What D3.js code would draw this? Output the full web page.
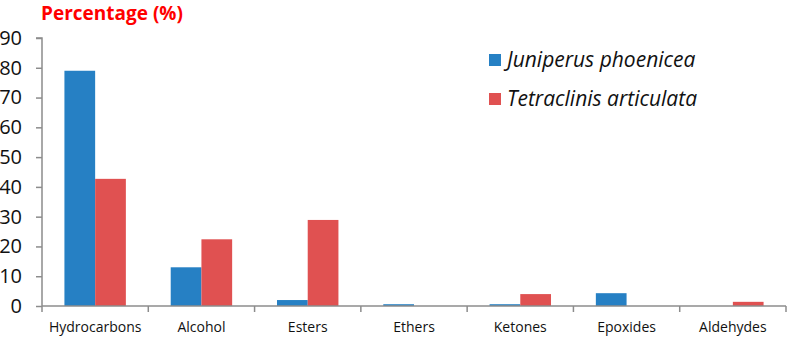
<!DOCTYPE html>
<html>
<head>
<meta charset="utf-8">
<script src="https://cdn.jsdelivr.net/npm/d3@7"></script>
<style>
  body { margin: 0; background: #fff; }
  text { font-family: "Open Sans", "Liberation Sans", sans-serif; }
</style>
</head>
<body>
<svg width="789" height="338"></svg>
<script>
// data
const categories = ["Hydrocarbons", "Alcohol", "Esters", "Ethers", "Ketones", "Epoxides", "Aldehydes"];
const juniperus = [79, 13, 2, 0.6, 0.6, 4.3, 0];
const tetraclinis = [42.7, 22.4, 28.9, 0, 4, 0, 1.4];
const seriesNames = ["Juniperus phoenicea", "Tetraclinis articulata"];
const yTicks = [0, 10, 20, 30, 40, 50, 60, 70, 80, 90];

const colors = ["#2680C4", "#E05151"];
const axisColor = "#8c8c8c";

const svg = d3.select("svg");
const margin = {left: 42, right: 3, top: 38, bottom: 32};
const width = 789, height = 338;

const x = d3.scaleBand()
    .domain(categories)
    .range([margin.left, width - margin.right]);

const inner = d3.scaleBand()
    .domain([0, 1])
    .range([0, x.bandwidth()])
    .paddingInner(0)
    .paddingOuter(0.73);

const y = d3.scaleLinear()
    .domain([0, 90])
    .range([height - margin.bottom, margin.top]);

// bars
const seriesData = [juniperus, tetraclinis];
seriesData.forEach((vals, si) => {
  svg.append("g")
    .selectAll("rect")
    .data(categories)
    .join("rect")
      .attr("x", c => x(c) + inner(si))
      .attr("width", inner.bandwidth())
      .attr("y", (c, i) => y(vals[i]))
      .attr("height", (c, i) => y(0) - y(vals[i]))
      .attr("fill", colors[si]);
});

// y axis
const yAxis = svg.append("g")
    .attr("transform", `translate(${margin.left},0)`)
    .call(d3.axisLeft(y).tickValues(yTicks).tickSize(6).tickPadding(14));
yAxis.select(".domain").attr("stroke", axisColor).attr("stroke-width", 1.5)
    .attr("d", `M-6,${y(90)}H0V${y(0)}`);
yAxis.selectAll(".tick line").attr("stroke", axisColor).attr("stroke-width", 1.5);
yAxis.selectAll(".tick text").attr("font-size", 20).attr("fill", "#111");

// x axis
const xAxis = svg.append("g")
    .attr("transform", `translate(0,${y(0)})`);
xAxis.append("line")
    .attr("x1", margin.left).attr("x2", width - margin.right)
    .attr("stroke", axisColor).attr("stroke-width", 1.5);
xAxis.selectAll("line.tk")
    .data(categories.concat(["end"]))
    .join("line")
      .attr("class", "tk")
      .attr("x1", (d, i) => i < categories.length ? x(d) : x(categories[categories.length - 1]) + x.bandwidth())
      .attr("x2", (d, i) => i < categories.length ? x(d) : x(categories[categories.length - 1]) + x.bandwidth())
      .attr("y1", 0).attr("y2", 6)
      .attr("stroke", axisColor).attr("stroke-width", 1.5);
xAxis.selectAll("text")
    .data(categories)
    .join("text")
      .attr("x", d => x(d) + x.bandwidth() / 2)
      .attr("y", 26)
      .attr("text-anchor", "middle")
      .attr("font-size", 14)
      .attr("fill", "#111")
      .text(d => d);

// y title
svg.append("text")
    .attr("x", 41)
    .attr("y", 20)
    .attr("font-size", 19)
    .attr("font-weight", "bold")
    .attr("fill", "#ff0000")
    .text("Percentage (%)");

// legend
const legend = svg.append("g").attr("transform", "translate(489,54)");
seriesNames.forEach((name, i) => {
  const g = legend.append("g").attr("transform", `translate(0,${i * 39})`);
  g.append("rect").attr("width", 12).attr("height", 12).attr("fill", colors[i]);
  g.append("text")
    .attr("x", 18).attr("y", 13)
    .attr("font-size", 21)
    .attr("font-style", "italic")
    .attr("fill", "#111")
    .text(name);
});
</script>
</body>
</html>
